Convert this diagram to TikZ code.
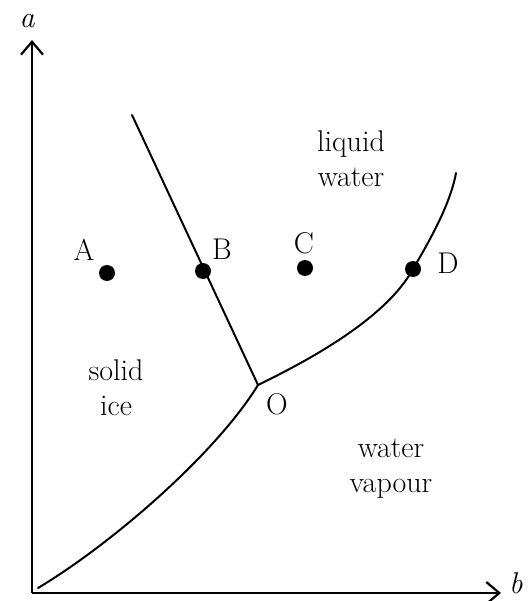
\documentclass[tikz,border=0pt]{standalone}
\usetikzlibrary{arrows.meta}
\begin{document}
\begin{tikzpicture}[x=1pt,y=-1pt,
  curve/.style={line width=2pt,line cap=round},
  axis/.style={line width=2.4pt,-{Straight Barb[length=13pt,width=22pt,line width=2.2pt]}},
  dot/.style={circle,fill=black,inner sep=0pt,minimum size=16pt},
  lbl/.style={font=\fontsize{30}{35}\selectfont,align=center,inner sep=0pt},
]
\useasboundingbox (0,0) rectangle (528,601);
\coordinate (orig) at (32,593);
\coordinate (ytip) at (32,40);
\coordinate (xtip) at (501,593);
\draw[axis] (orig) -- (ytip);
\draw[axis] (orig) -- (xtip);
\node[lbl,font=\fontsize{30}{35}\selectfont\itshape] (alab) at (27,21) {a};
\node[lbl,font=\fontsize{30}{35}\selectfont\itshape,anchor=base west] (blab) at (509,593) {b};

\coordinate (O) at (258,385);
\coordinate (top) at (132,115);
\coordinate (bl) at (38,588);
\coordinate (tr) at (456,173);
\draw[curve] (O) -- (top);
\draw[curve] (bl) .. controls (110,545) and (215,455) .. (O);
\draw[curve] (O) .. controls (305,362) and (385,320) .. (413,269)
  .. controls (430,240) and (450,205) .. (tr);

\node[dot] (A) at (107,273) {};
\node[dot] (B) at (203,271) {};
\node[dot] (C) at (305,268) {};
\node[dot] (D) at (413,269) {};
\node[lbl] (Al) at (84,250) {A};
\node[lbl] (Bl) at (222,249) {B};
\node[lbl] (Cl) at (304,243) {C};
\node[lbl] (Dl) at (448,263) {D};
\node[lbl] (Ol) at (277,404) {O};

\node[lbl] (liq) at (351,159) {liquid\\water};
\node[lbl] (ice) at (116,388) {solid\\ice};
\node[lbl] (vap) at (391,469) {water\\vapour};
\end{tikzpicture}
\end{document}
